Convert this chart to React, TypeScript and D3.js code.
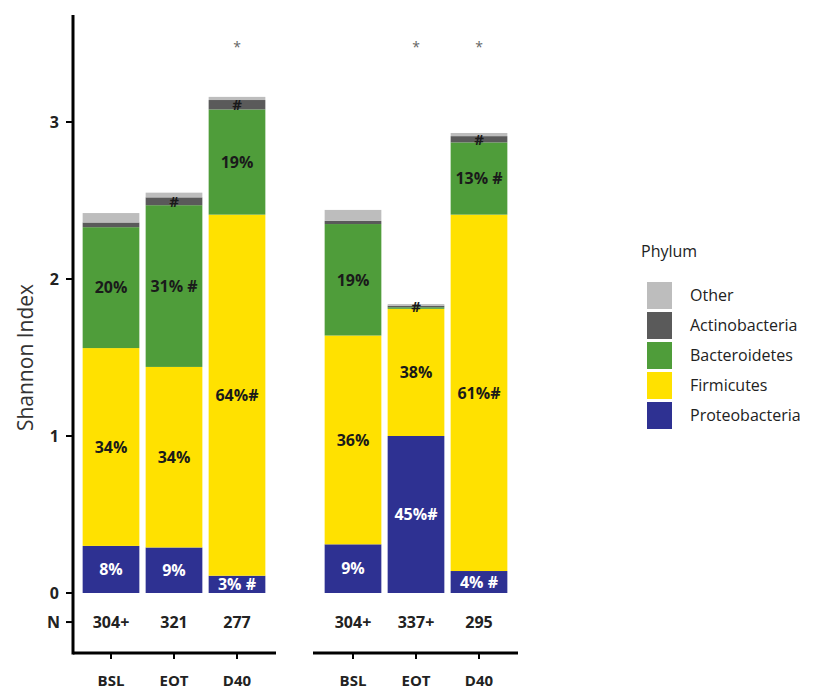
import React from 'react';
import * as d3 from 'd3';

// stack order: bottom -> top
const phyla = ['Proteobacteria', 'Firmicutes', 'Bacteroidetes', 'Actinobacteria', 'Other'];
const phylumColors = ['#2e3192', '#ffe100', '#4f9d3a', '#5a5a5a', '#bdbdbd'];
const legendOrder = ['Other', 'Actinobacteria', 'Bacteroidetes', 'Firmicutes', 'Proteobacteria'];

const timepoints = ['BSL', 'EOT', 'D40'];
const panels = ['left', 'right'];

// Shannon index contribution per phylum, bars in order: left BSL, EOT, D40, right BSL, EOT, D40
const proteobacteria = [0.30, 0.29, 0.11, 0.31, 1.0, 0.14];
const firmicutes = [1.26, 1.15, 2.30, 1.33, 0.81, 2.27];
const bacteroidetes = [0.77, 1.03, 0.67, 0.71, 0.01, 0.46];
const actinobacteria = [0.03, 0.05, 0.06, 0.02, 0.01, 0.04];
const other = [0.06, 0.03, 0.02, 0.07, 0.01, 0.02];

const proteoLabels = ['8%', '9%', '3% #', '9%', '45%#', '4% #'];
const firmLabels = ['34%', '34%', '64%#', '36%', '38%', '61%#'];
const bactLabels = ['20%', '31% #', '19%', '19%', '', '13% #'];
const actinoLabels = ['', '#', '#', '', '#', '#'];
const otherLabels = ['', '', '', '', '', ''];

const nCounts = ['304+', '321', '277', '304+', '337+', '295'];
const stars = ['', '', '*', '', '*', '*'];

const yTicks = [0, 1, 2, 3];
const nRowValue = -0.185;

const W = 814;
const H = 692;
const font = '"Open Sans", "Noto Sans", sans-serif';

export default function App() {
  const y = d3.scaleLinear().domain([0, 3]).range([593, 122]);
  const axisX = 73;
  const baseY = 653;

  const panelRanges: Record<string, [number, number]> = {
    left: [79.5, 268.5],
    right: [321.5, 510.5],
  };
  const panelLines: Record<string, [number, number]> = {
    left: [axisX, 276],
    right: [313, 518],
  };
  const xScales = panels.map((p) =>
    d3.scaleBand<string>().domain(timepoints).range(panelRanges[p]).paddingInner(0.1).paddingOuter(0.05)
  );

  const series = [proteobacteria, firmicutes, bacteroidetes, actinobacteria, other];
  const labels = [proteoLabels, firmLabels, bactLabels, actinoLabels, otherLabels];
  const rows = d3.range(6).map((i) => {
    const r: Record<string, number> = {};
    phyla.forEach((p, k) => (r[p] = series[k][i]));
    return r;
  });
  const stacked = d3.stack<Record<string, number>>().keys(phyla)(rows);

  const barX = (i: number) => {
    const sc = xScales[Math.floor(i / 3)];
    return { x: sc(timepoints[i % 3]) as number, w: sc.bandwidth(), cx: (sc(timepoints[i % 3]) as number) + sc.bandwidth() / 2 };
  };

  return (
    <svg width={W} height={H} style={{ position: 'absolute', left: 0, top: 0, background: '#fff' }} fontFamily={font}>
      {/* bars */}
      {stacked.map((layer, k) =>
        layer.map((d, i) => {
          const b = barX(i);
          return (
            <rect
              key={`${k}-${i}`}
              x={b.x}
              width={b.w}
              y={y(d[1])}
              height={Math.max(0, y(d[0]) - y(d[1]))}
              fill={phylumColors[k]}
            />
          );
        })
      )}
      {/* segment labels */}
      {stacked.map((layer, k) =>
        layer.map((d, i) => {
          const txt = labels[k][i];
          if (!txt) return null;
          const b = barX(i);
          const thin = k >= 3;
          return (
            <text
              key={`l${k}-${i}`}
              x={b.cx}
              y={(y(d[0]) + y(d[1])) / 2}
              dy="0.36em"
              textAnchor="middle"
              fontSize={thin ? 15 : 16}
              fontWeight={700}
              fill={k === 0 ? '#ffffff' : '#1a1a1a'}
            >
              {txt}
            </text>
          );
        })
      )}
      {/* significance stars */}
      {stars.map((s, i) =>
        s ? (
          <text key={`s${i}`} x={barX(i).cx} y={y(3.5)} dy="0.6em" textAnchor="middle" fontSize={14} fill="#666">
            {s}
          </text>
        ) : null
      )}
      {/* y axis */}
      <line x1={axisX} x2={axisX} y1={15} y2={baseY + 1.5} stroke="#000" strokeWidth={3} />
      {yTicks.map((t) => (
        <g key={t}>
          <line x1={axisX - 7} x2={axisX} y1={y(t)} y2={y(t)} stroke="#000" strokeWidth={2} />
          <text x={59} y={y(t)} dy="0.36em" textAnchor="end" fontSize={16} fontWeight={700} fill="#222">
            {t}
          </text>
        </g>
      ))}
      <line x1={axisX - 7} x2={axisX} y1={y(nRowValue)} y2={y(nRowValue)} stroke="#000" strokeWidth={2} />
      <text x={60} y={y(nRowValue)} dy="0.36em" textAnchor="end" fontSize={16} fontWeight={700} fill="#222">
        N
      </text>
      <text
        transform={`translate(26,${(y(0) + y(3)) / 2}) rotate(-90)`}
        textAnchor="middle"
        dy="0.35em"
        fontSize={21}
        fill="#333"
      >
        Shannon Index
      </text>
      {/* N counts */}
      {nCounts.map((n, i) => (
        <text key={`n${i}`} x={barX(i).cx} y={y(nRowValue)} dy="0.36em" textAnchor="middle" fontSize={16} fontWeight={700} fill="#222">
          {n}
        </text>
      ))}
      {/* bottom axes */}
      {panels.map((p, pi) => (
        <g key={p}>
          <line x1={panelLines[p][0]} x2={panelLines[p][1]} y1={baseY} y2={baseY} stroke="#000" strokeWidth={3} />
          {timepoints.map((t) => {
            const cx = (xScales[pi](t) as number) + xScales[pi].bandwidth() / 2;
            return (
              <g key={t}>
                <line x1={cx} x2={cx} y1={baseY} y2={baseY + 6} stroke="#000" strokeWidth={2} />
                <text x={cx} y={681} textAnchor="middle" dy="0.36em" fontSize={15} fontWeight={700} fill="#222">
                  {t}
                </text>
              </g>
            );
          })}
        </g>
      ))}
      {/* legend */}
      <text x={641} y={257} fontSize={16} fill="#222">
        Phylum
      </text>
      {legendOrder.map((name, j) => (
        <g key={name} transform={`translate(647,${282 + j * 30})`}>
          <rect width={25} height={27} fill={phylumColors[phyla.indexOf(name)]} />
          <text x={43} y={13.5} dy="0.36em" fontSize={16} fill="#222">
            {name}
          </text>
        </g>
      ))}
    </svg>
  );
}
